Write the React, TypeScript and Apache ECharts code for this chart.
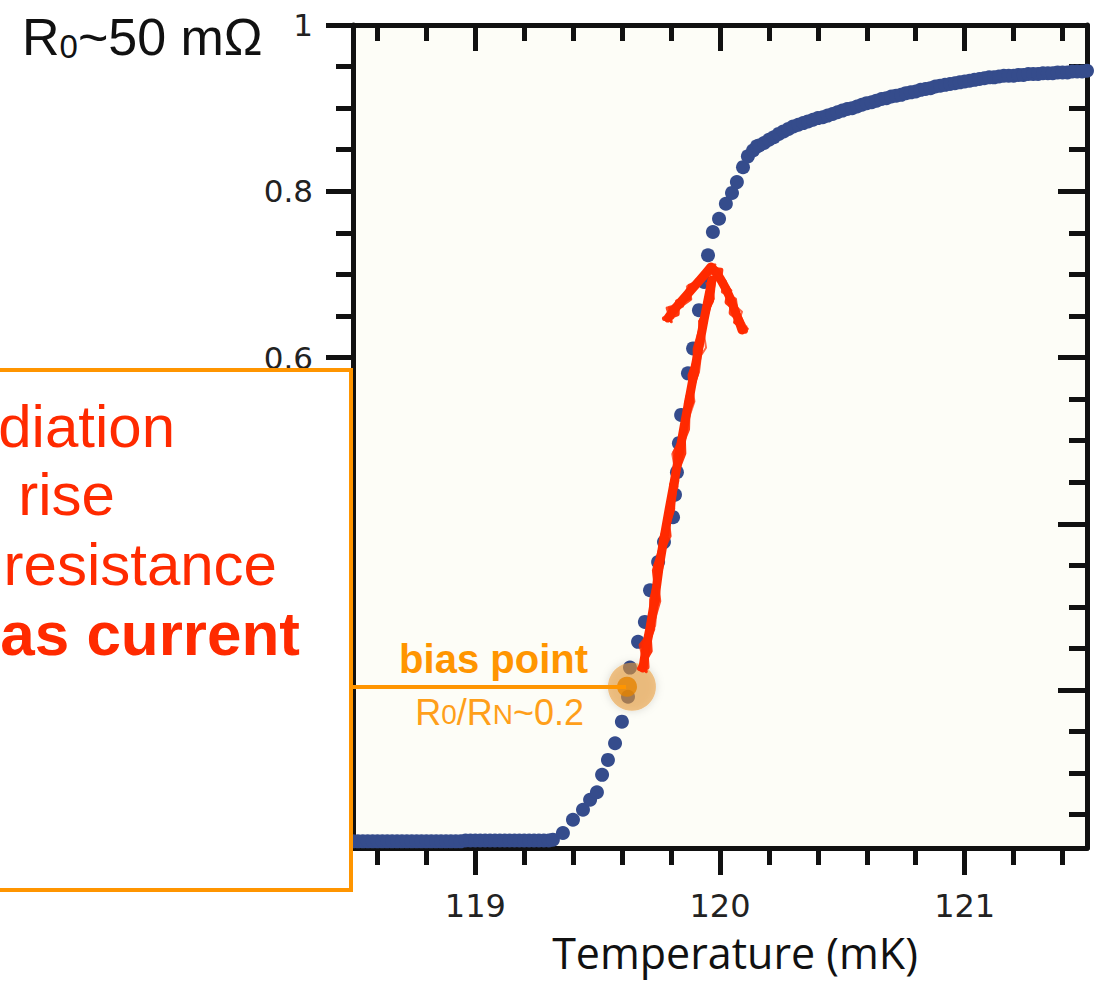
import React, { useEffect, useRef } from 'react';
import * as echarts from 'echarts';

// ---- data (temperature in mK, resistance R/RN) ----
const flatTemperature = [
  118.5, 118.52, 118.54, 118.56, 118.58, 118.6, 118.62, 118.64, 118.66, 118.68,
  118.7, 118.72, 118.74, 118.76, 118.78, 118.8, 118.82, 118.84, 118.86, 118.88,
  118.9, 118.92, 118.94, 118.96, 118.98, 119.0, 119.02, 119.04, 119.06, 119.08,
  119.1, 119.12, 119.14, 119.16, 119.18, 119.2, 119.22, 119.24, 119.26, 119.28,
  119.3,
];
const flatResistance = [
  0.018, 0.018, 0.018, 0.018, 0.018, 0.018, 0.018, 0.018, 0.018, 0.018,
  0.018, 0.018, 0.018, 0.018, 0.018, 0.018, 0.018, 0.018, 0.018, 0.018,
  0.018, 0.018, 0.018, 0.019, 0.019, 0.019, 0.019, 0.019, 0.019, 0.019,
  0.019, 0.019, 0.019, 0.019, 0.019, 0.019, 0.019, 0.019, 0.019, 0.019,
  0.019,
];
const transitionTemperature = [
  119.317, 119.358, 119.399, 119.44, 119.469, 119.497, 119.518, 119.542, 119.571, 119.599,
  119.624, 119.632, 119.665, 119.693, 119.714, 119.747, 119.771, 119.808, 119.816, 119.824,
  119.832, 119.841, 119.869, 119.89, 119.914, 119.935, 119.951, 119.971, 119.996, 120.024,
  120.049, 120.069, 120.094, 120.114, 120.135, 120.151,
];
const transitionResistance = [
  0.02, 0.028, 0.044, 0.056, 0.068, 0.077, 0.098, 0.116, 0.136, 0.162,
  0.192, 0.227, 0.258, 0.282, 0.32, 0.354, 0.378, 0.408, 0.435, 0.462,
  0.497, 0.531, 0.581, 0.611, 0.657, 0.691, 0.723, 0.751, 0.767, 0.785,
  0.798, 0.811, 0.829, 0.842, 0.849, 0.854,
];
const normalTemperature = [
  120.16, 120.18, 120.2, 120.22, 120.24, 120.26, 120.28, 120.3, 120.32, 120.34,
  120.36, 120.38, 120.4, 120.42, 120.44, 120.46, 120.48, 120.5, 120.52, 120.54,
  120.56, 120.58, 120.6, 120.62, 120.64, 120.66, 120.68, 120.7, 120.72, 120.74,
  120.76, 120.78, 120.8, 120.82, 120.84, 120.86, 120.88, 120.9, 120.92, 120.94,
  120.96, 120.98, 121.0, 121.02, 121.04, 121.06, 121.08, 121.1, 121.12, 121.14,
  121.16, 121.18, 121.2, 121.22, 121.24, 121.26, 121.28, 121.3, 121.32, 121.34,
  121.36, 121.38, 121.4, 121.42, 121.44, 121.46, 121.48, 121.5,
];
const normalResistance = [
  0.855, 0.858, 0.862, 0.865, 0.869, 0.872, 0.875, 0.878, 0.88, 0.882,
  0.884, 0.886, 0.888, 0.889, 0.891, 0.893, 0.895, 0.897, 0.899, 0.9,
  0.902, 0.904, 0.906, 0.907, 0.909, 0.911, 0.912, 0.914, 0.915, 0.916,
  0.918, 0.919, 0.92, 0.922, 0.923, 0.924, 0.926, 0.927, 0.928, 0.929,
  0.93, 0.931, 0.932, 0.933, 0.934, 0.935, 0.936, 0.937, 0.937, 0.938,
  0.939, 0.939, 0.939, 0.94, 0.94, 0.941, 0.941, 0.941, 0.942, 0.942,
  0.942, 0.943, 0.943, 0.943, 0.944, 0.944, 0.944, 0.945,
];
const biasPoint = [119.62, 0.204];
const biasHalo = [119.64, 0.204];

const xRange = [118.5, 121.5];
const yRange = [0.01, 1];
const xTickValues = [119, 120, 121];
const yTickValues = [0.2, 0.4, 0.6, 0.8, 1];
const yLabelValues = [0.6, 0.8, 1];

const xAxisName = 'Temperature (mK)';
const boxLines = ['diation', 'rise', 'resistance', 'as current'];
const biasTitle = 'bias point';

const AXIS = '#111111';
const DOT = '#354c8c';
const ORANGE = '#ff9500';
const RED = '#ff2a00';
const SANS = '"Liberation Sans", Arial, Helvetica, sans-serif';

export default function App() {
  const ref = useRef<HTMLDivElement>(null);

  useEffect(() => {
    if (!ref.current) return;
    const chart = echarts.init(ref.current, null, { renderer: 'svg' });

    const pts: number[][] = [];
    flatTemperature.forEach((t, i) => pts.push([t, flatResistance[i]]));
    transitionTemperature.forEach((t, i) => pts.push([t, transitionResistance[i]]));
    normalTemperature.forEach((t, i) => pts.push([t, normalResistance[i]]));

    const axisLine = { show: true, onZero: false, lineStyle: { color: AXIS, width: 5 } };
    const tickStyle = { color: AXIS, width: 5 };

    const xCommon = {
      type: 'value',
      min: xRange[0],
      max: xRange[1],
      splitNumber: 3,
      splitLine: { show: false },
      axisLine,
    };
    const yCommon = {
      type: 'value',
      min: yRange[0],
      max: yRange[1],
      splitNumber: 5,
      splitLine: { show: false },
      axisLine,
    };

    // hand-drawn red arrow (annotation)
    const stem = [
      [643, 668], [646, 648], [650, 628], [655, 598], [659, 568], [664, 538],
      [669, 510], [674, 483], [679, 455], [684, 427], [689, 400], [694, 373],
      [699, 347], [704, 320], [708, 300], [712, 280],
    ];
    const head = [
      [668, 318], [673, 311], [679, 304], [686, 296], [692, 289], [700, 280],
      [706, 273], [711, 267], [716, 272], [721, 280], [726, 289], [731, 300],
      [735, 311], [739, 321], [742, 330],
    ];
    const offs = [0.8, -1.6, 1.9, -0.7, 1.2, -2.1, 0.4, 1.7, -1.1, 2.2, -0.5, 1.4, -1.8, 0.9, -1.3, 1.6];
    const jitter = (arr: number[][], k: number, amp: number) =>
      arr.map(([x, y], i) => [
        x + offs[(i + k) % offs.length] * amp,
        y + offs[(i * 3 + k + 5) % offs.length] * amp * 0.6,
      ]);
    const roughStroke = (pts0: number[][]) => [
      { pts: pts0, w: 9, o: 1 },
      { pts: jitter(pts0, 1, 2.2), w: 5, o: 0.95 },
      { pts: jitter(pts0, 4, 2.8), w: 3, o: 0.85 },
      { pts: jitter(pts0, 9, 1.6), w: 6, o: 0.9 },
      { pts: jitter(pts0, 13, 3.2), w: 2, o: 0.7 },
    ];
    const arrowGraphics = [...roughStroke(stem), ...roughStroke(head)].map((s) => ({
      type: 'polyline',
      z: 102,
      shape: { points: s.pts },
      style: { stroke: RED, lineWidth: s.w, fill: null, opacity: s.o, lineJoin: 'round', lineCap: 'round' },
    }));

    chart.setOption({
      animation: false,
      backgroundColor: '#ffffff',
      textStyle: { fontFamily: SANS },
      grid: {
        left: 353,
        right: 8,
        top: 25,
        bottom: 135,
        show: true,
        backgroundColor: '#fdfdf7',
        borderWidth: 0,
      },
      xAxis: [
        {
          ...xCommon,
          position: 'bottom',
          axisTick: { show: true, inside: false, length: 27, customValues: xTickValues, lineStyle: tickStyle },
          minorTick: { show: true, splitNumber: 5, length: 17, lineStyle: tickStyle },
          axisLabel: {
            customValues: xTickValues,
            margin: 42,
            fontFamily: '"DejaVu Sans", sans-serif',
            fontSize: 32,
            color: '#222',
          },
          name: xAxisName,
          nameLocation: 'middle',
          nameGap: 83,
          nameTextStyle: {
            fontFamily: '"Open Sans", sans-serif',
            fontSize: 43,
            color: '#111',
            padding: [0, 0, 0, 30],
          },
        },
        {
          ...xCommon,
          position: 'top',
          axisTick: { show: true, inside: true, length: 26, customValues: xTickValues, lineStyle: tickStyle },
          minorTick: { show: true, splitNumber: 5, length: 16, lineStyle: tickStyle },
          axisLabel: { show: false },
        },
      ],
      yAxis: [
        {
          ...yCommon,
          position: 'left',
          axisTick: { show: true, inside: false, length: 27, customValues: yTickValues, lineStyle: tickStyle },
          minorTick: { show: true, splitNumber: 4, length: 17, lineStyle: tickStyle },
          axisLabel: {
            customValues: yLabelValues,
            margin: 40,
            fontFamily: '"DejaVu Sans", sans-serif',
            fontSize: 31,
            color: '#222',
          },
        },
        {
          ...yCommon,
          position: 'right',
          axisTick: { show: true, inside: true, length: 29, customValues: yTickValues, lineStyle: tickStyle },
          minorTick: { show: true, splitNumber: 4, length: 18, lineStyle: tickStyle },
          axisLabel: { show: false },
        },
      ],
      series: [
        {
          type: 'scatter',
          xAxisIndex: 0,
          yAxisIndex: 0,
          data: pts,
          symbol: 'circle',
          symbolSize: 14,
          itemStyle: { color: DOT, opacity: 1 },
          emphasis: { disabled: true },
          z: 2,
        },
        {
          type: 'scatter',
          data: [biasHalo],
          symbolSize: 48,
          itemStyle: {
            color: 'rgba(232,155,55,0.72)',
            shadowBlur: 8,
            shadowColor: 'rgba(0,0,0,0.25)',
          },
          emphasis: { disabled: true },
          z: 3,
        },
        {
          type: 'scatter',
          data: [biasPoint],
          symbolSize: 20,
          itemStyle: { color: '#e58300' },
          emphasis: { disabled: true },
          z: 4,
        },
      ],
      graphic: [
        {
          type: 'rect',
          z: 100,
          shape: { x: -10, y: 370, width: 361, height: 520 },
          style: { fill: '#ffffff', stroke: ORANGE, lineWidth: 4 },
        },
        {
          type: 'text', z: 101, x: 175, y: 426,
          style: { text: boxLines[0], fill: RED, fontFamily: SANS, fontSize: 60, align: 'right', verticalAlign: 'middle' },
        },
        {
          type: 'text', z: 101, x: 115, y: 494,
          style: { text: boxLines[1], fill: RED, fontFamily: SANS, fontSize: 60, align: 'right', verticalAlign: 'middle' },
        },
        {
          type: 'text', z: 101, x: 277, y: 564,
          style: { text: boxLines[2], fill: RED, fontFamily: SANS, fontSize: 60, align: 'right', verticalAlign: 'middle' },
        },
        {
          type: 'text', z: 101, x: 300, y: 633,
          style: { text: boxLines[3], fill: RED, fontFamily: SANS, fontSize: 62, fontWeight: 'bold', align: 'right', verticalAlign: 'middle' },
        },
        {
          type: 'line', z: 101,
          shape: { x1: 351, y1: 687, x2: 626, y2: 687 },
          style: { stroke: ORANGE, lineWidth: 4 },
        },
        {
          type: 'text', z: 101, x: 588, y: 659,
          style: { text: biasTitle, fill: ORANGE, fontFamily: SANS, fontSize: 40, fontWeight: 'bold', align: 'right', verticalAlign: 'middle' },
        },
        {
          type: 'text', z: 101, x: 584, y: 712,
          style: {
            text: '{n|R}{s|0}{n|/R}{s|N}{n|~0.2}',
            align: 'right',
            verticalAlign: 'middle',
            fill: '#ff9f1a',
            fontFamily: SANS,
            rich: {
              n: { fontSize: 36, lineHeight: 40, fill: '#ff9f1a', fontFamily: SANS },
              s: { fontSize: 28, verticalAlign: 'bottom', padding: [0, 0, 4, 0], fill: '#ff9f1a', fontFamily: SANS },
            },
          },
        },
        {
          type: 'text', z: 101, x: 22, y: 37,
          style: {
            text: '{n|R}{s|0}{n|~50 mΩ}',
            align: 'left',
            verticalAlign: 'middle',
            fill: '#111',
            fontFamily: SANS,
            rich: {
              n: { fontSize: 52, lineHeight: 60, fill: '#111', fontFamily: SANS },
              s: { fontSize: 33, verticalAlign: 'bottom', padding: [0, 0, 4, 0], fill: '#111', fontFamily: SANS },
            },
          },
        },
        ...arrowGraphics,
      ],
    });

    return () => chart.dispose();
  }, []);

  return (
    <div
      ref={ref}
      style={{ position: 'fixed', left: 0, top: 0, width: 1095, height: 983, background: '#fff' }}
    />
  );
}
